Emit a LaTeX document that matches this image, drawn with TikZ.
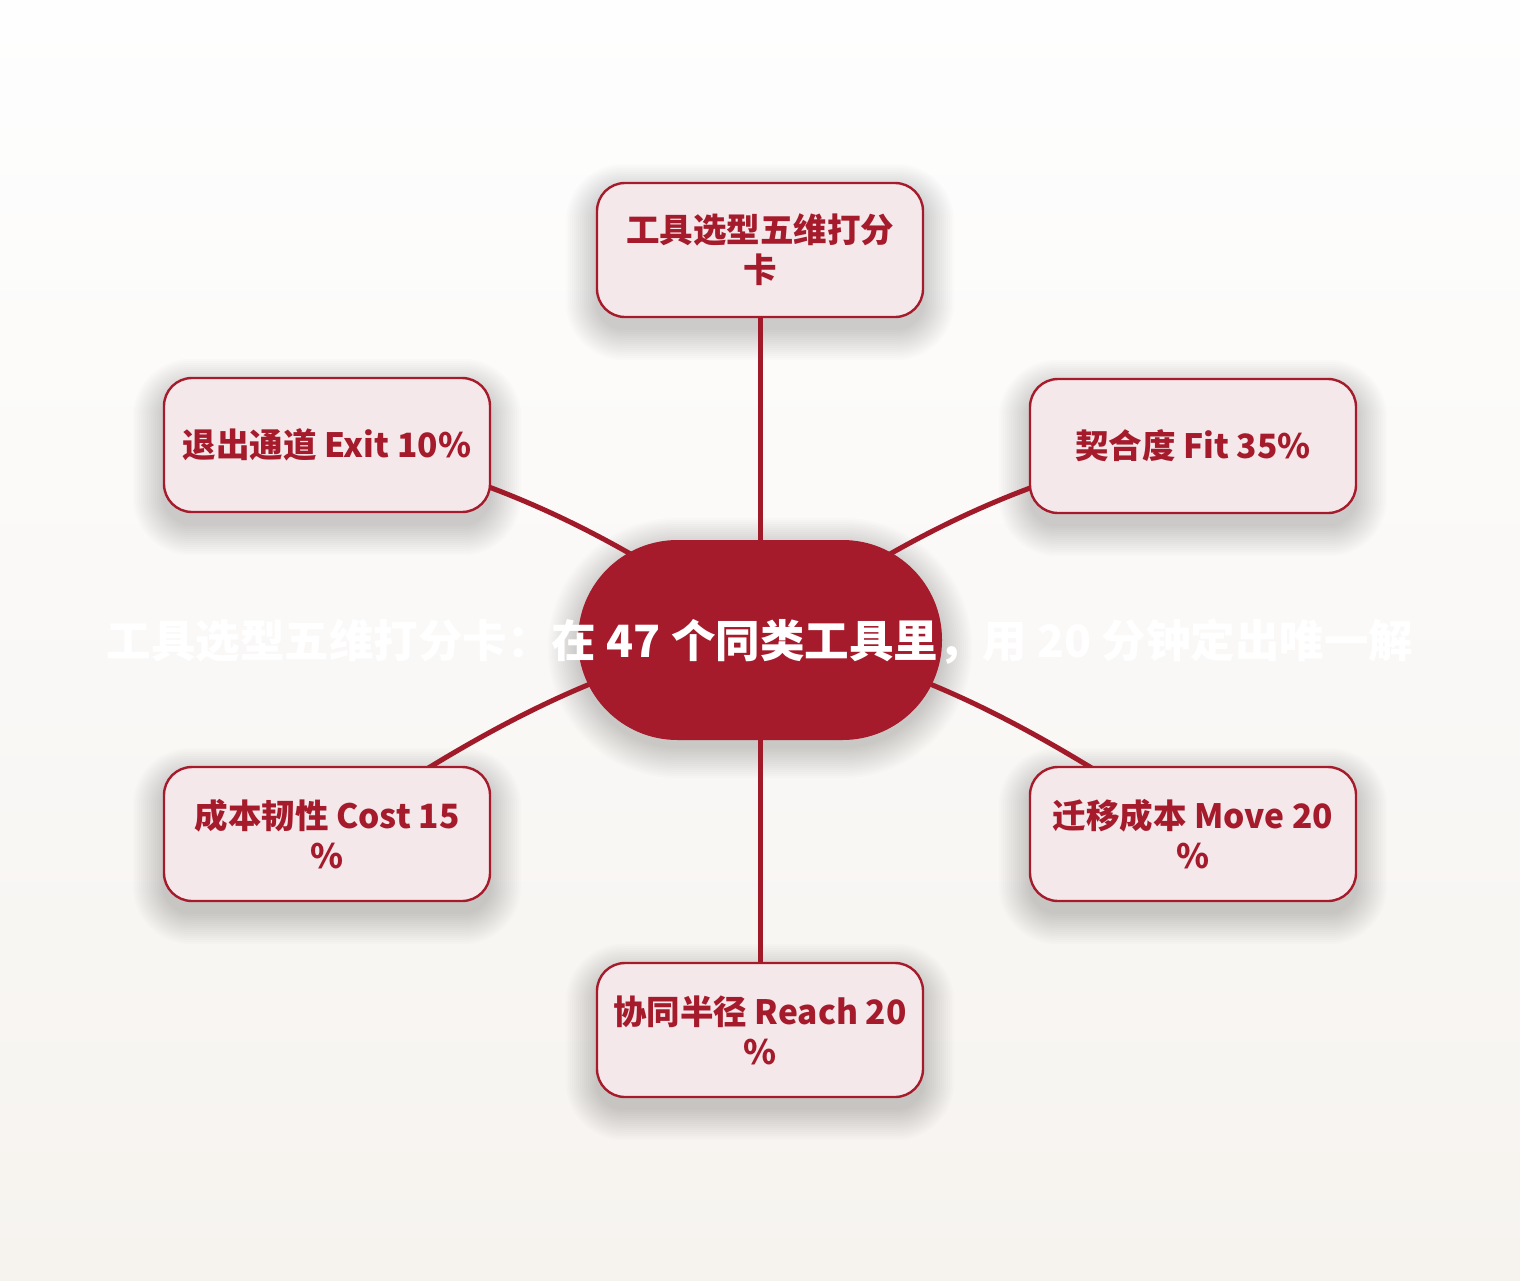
\documentclass[tikz,border=0pt]{standalone}
\usepackage{fontspec}
\setmainfont{Noto Sans CJK SC}
\usetikzlibrary{calc}
\definecolor{crim}{HTML}{A51B2B}
\definecolor{linec}{HTML}{A01A2A}
\definecolor{boxfill}{HTML}{F4E8EB}
\definecolor{bgtop}{HTML}{FEFEFE}
\definecolor{bgbot}{HTML}{F6F3EF}
\pgfdeclarelayer{shadowlayer}
\pgfdeclarelayer{edgelayer}
\pgfsetlayers{shadowlayer,edgelayer,main}
\tikzset{
  leaf/.style={draw=crim, line width=2.4pt, fill=boxfill, rounded corners=28pt,
    minimum width=326pt, minimum height=134pt, inner sep=0pt,
    align=center, text=crim, font=\fontsize{33.5}{40}\selectfont\bfseries},
  hub/.style={fill=crim, rounded corners=99.5pt, minimum width=364pt, minimum height=200pt,
    inner sep=0pt},
  titletext/.style={text=white, font=\fontsize{44.5}{50}\selectfont\bfseries, inner sep=0pt},
  link/.style={draw=linec, line width=5pt},
  shadowfill/.style={fill=black, opacity=#1}
}
% #1 node, #2 corner radius, #3 vertical offset, #4 opacity per layer
\newcommand\softshade[4]{%
  \foreach \k in {0,...,15}{%
    \pgfmathsetmacro\dd{\k*2}%
    \pgfmathsetmacro\rr{#2+\k*2}%
    \fill[shadowfill=#4, rounded corners=\rr pt]
      ([xshift=-\dd pt, yshift=-\dd pt-#3]#1.south west) rectangle
      ([xshift=\dd pt, yshift=\dd pt-#3]#1.north east);
  }%
}
\begin{document}
\begin{tikzpicture}[x=1pt,y=-1pt]
\begin{pgfonlayer}{shadowlayer}
\shade[top color=bgtop, bottom color=bgbot] (0,0) rectangle (1520,1280);
\end{pgfonlayer}
\useasboundingbox (0,0) rectangle (1520,1280);
% nodes
\coordinate (hc) at (760,640);
\node[leaf] (top) at (760,250) {工具选型五维打分\\卡};
\node[leaf] (lt) at (327,445) {退出通道 Exit 10\%};
\node[leaf] (rt) at (1193,446) {契合度 Fit 35\%};
\node[leaf] (lb) at (327,834) {成本韧性 Cost 15\\\%};
\node[leaf] (rb) at (1193,834) {迁移成本 Move 20\\\%};
\node[leaf] (bot) at (760,1030) {协同半径 Reach 20\\\%};
\node[hub] (hub) at (hc) {};
\node[titletext] (title) at (760,642) {工具选型五维打分卡：在 47 个同类工具里，用 20 分钟定出唯一解};
% shadows
\begin{pgfonlayer}{shadowlayer}
\foreach \n in {top,lt,rt,lb,rb,bot}{\softshade{\n}{28}{12pt}{0.011}}
\softshade{hub}{100}{8pt}{0.013}
\end{pgfonlayer}
% connectors
\begin{pgfonlayer}{edgelayer}
\draw[link] (hub.center) -- (top.center);
\draw[link] (hub.center) -- (bot.center);
\draw[link] (hub.center) .. controls ($(hub.center)!0.33!(lt.center)+(0,-44)$) and ($(hub.center)!0.67!(lt.center)+(0,-44)$) .. (lt.center);
\draw[link] (hub.center) .. controls ($(hub.center)!0.33!(rt.center)+(0,-44)$) and ($(hub.center)!0.67!(rt.center)+(0,-44)$) .. (rt.center);
\draw[link] (hub.center) .. controls ($(hub.center)!0.33!(lb.center)+(0,-52)$) and ($(hub.center)!0.67!(lb.center)+(0,-34)$) .. (lb.center);
\draw[link] (hub.center) .. controls ($(hub.center)!0.33!(rb.center)+(0,-52)$) and ($(hub.center)!0.67!(rb.center)+(0,-34)$) .. (rb.center);
\end{pgfonlayer}
\end{tikzpicture}
\end{document}
